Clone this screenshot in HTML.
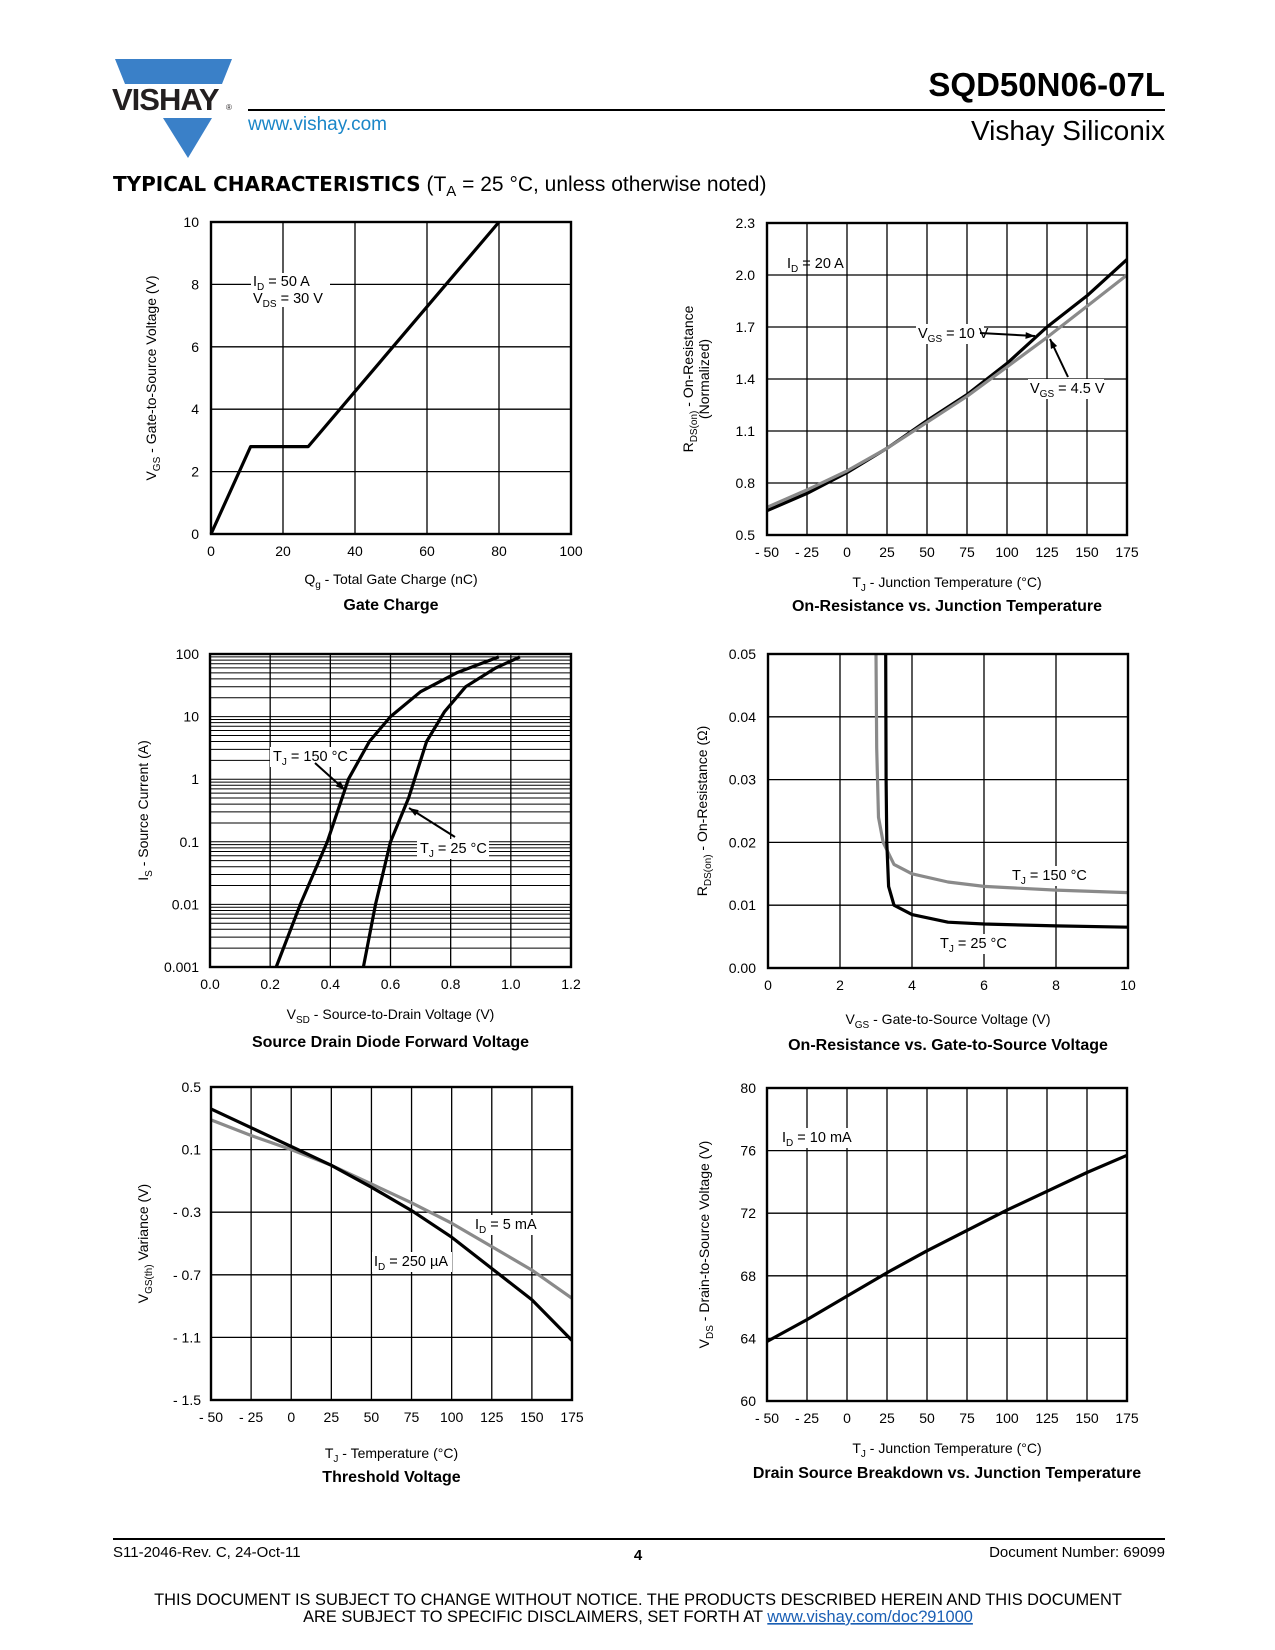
<!DOCTYPE html>
<html><head><meta charset="utf-8">
<style>
html,body{margin:0;padding:0;background:#fff;}
svg{display:block;font-family:"Liberation Sans",Arial,sans-serif;}
</style></head>
<body>
<svg id="page" width="1275" height="1650" viewBox="0 0 1275 1650" xmlns="http://www.w3.org/2000/svg">
  <g>
    <polygon points="115,59 232,59 222,84 125,84" fill="#3a80c8"/>
    <polygon points="163,118 212,118 188,158" fill="#3a80c8"/>
    <text x="112" y="110" font-size="31" font-weight="bold" fill="#231f20" letter-spacing="-1">VISHAY</text>
    <text x="226" y="110" font-size="8" fill="#231f20">®</text>
  </g>
  <line x1="248" y1="110" x2="1165" y2="110" stroke="#000" stroke-width="2"/>
  <text x="1165" y="96" text-anchor="end" font-size="33" font-weight="bold">SQD50N06-07L</text>
  <text x="1165" y="140" text-anchor="end" font-size="28">Vishay Siliconix</text>
  <text x="248" y="130" font-size="19" fill="#1a86c8">www.vishay.com</text>
  <text x="113" y="191" font-size="21"><tspan font-weight="bold" font-family="'DejaVu Sans','Liberation Sans',sans-serif" font-size="20">TYPICAL CHARACTERISTICS</tspan> (T<tspan font-size="15" dy="5">A</tspan><tspan dy="-5"> = 25 °C, unless otherwise noted)</tspan></text>

  <g id="charts"></g>

  <line x1="113" y1="1539" x2="1165" y2="1539" stroke="#000" stroke-width="2"/>
  <text x="113" y="1557" font-size="15">S11-2046-Rev. C, 24-Oct-11</text>
  <text x="638" y="1560" font-size="15" font-weight="bold" text-anchor="middle">4</text>
  <text x="1165" y="1557" font-size="15" text-anchor="end">Document Number: 69099</text>
  <text x="638" y="1605" font-size="16.4" text-anchor="middle">THIS DOCUMENT IS SUBJECT TO CHANGE WITHOUT NOTICE. THE PRODUCTS DESCRIBED HEREIN AND THIS DOCUMENT</text>
  <text x="638" y="1622" font-size="16.4" text-anchor="middle">ARE SUBJECT TO SPECIFIC DISCLAIMERS, SET FORTH AT <tspan fill="#1a5fb4" text-decoration="underline">www.vishay.com/doc?91000</tspan></text>
</svg>
<script>
// ---- Chart 1: Gate charge
const gcQ = [0, 11, 27, 80];
const gcV = [0, 2.8, 2.8, 10];
const gcXTicks = [0, 20, 40, 60, 80, 100];
const gcYTicks = [0, 2, 4, 6, 8, 10];
// ---- Chart 2: On-resistance vs Tj
const rtT = [-50, -25, 0, 25, 50, 75, 100, 125, 150, 175];
const rt10V = [0.64, 0.74, 0.86, 1.0, 1.16, 1.31, 1.49, 1.70, 1.88, 2.09];
const rt45V = [0.66, 0.76, 0.87, 1.0, 1.15, 1.30, 1.47, 1.64, 1.82, 2.0];
const rtXTicks = [-50, -25, 0, 25, 50, 75, 100, 125, 150, 175];
const rtYTicks = [0.5, 0.8, 1.1, 1.4, 1.7, 2.0, 2.3];
// ---- Chart 3: Diode forward
const sd150V = [0.22, 0.30, 0.39, 0.46, 0.53, 0.60, 0.70, 0.82, 0.96];
const sd150I = [0.001, 0.01, 0.1, 1, 4, 10, 25, 50, 90];
const sd25V = [0.51, 0.55, 0.60, 0.66, 0.68, 0.72, 0.78, 0.85, 0.95, 1.03];
const sd25I = [0.001, 0.01, 0.1, 0.5, 1, 4, 12, 30, 60, 90];
const sdXTicks = [0.0, 0.2, 0.4, 0.6, 0.8, 1.0, 1.2];
const sdYTicks = [0.001, 0.01, 0.1, 1, 10, 100];
// ---- Chart 4: Rds vs Vgs
const rv25V = [3.27, 3.28, 3.30, 3.35, 3.5, 4, 5, 6, 8, 10];
const rv25R = [0.05, 0.03, 0.02, 0.013, 0.010, 0.0085, 0.0073, 0.007, 0.0067, 0.0065];
const rv150V = [3.0, 3.02, 3.07, 3.2, 3.5, 4, 5, 6, 8, 10];
const rv150R = [0.05, 0.035, 0.024, 0.020, 0.0165, 0.015, 0.0137, 0.013, 0.0124, 0.012];
const rvXTicks = [0, 2, 4, 6, 8, 10];
const rvYTicks = [0.00, 0.01, 0.02, 0.03, 0.04, 0.05];
// ---- Chart 5: Threshold voltage
const thT = [-50, -25, 0, 25, 50, 75, 100, 125, 150, 175];
const th250u = [0.36, 0.24, 0.12, 0.0, -0.14, -0.29, -0.46, -0.66, -0.86, -1.12];
const th5m = [0.29, 0.19, 0.10, 0.0, -0.12, -0.24, -0.37, -0.52, -0.67, -0.85];
const thYTicks = [-1.5, -1.1, -0.7, -0.3, 0.1, 0.5];
const thYLabels = ["- 1.5", "- 1.1", "- 0.7", "- 0.3", "0.1", "0.5"];
// ---- Chart 6: Breakdown
const bdT = [-50, -25, 0, 25, 50, 75, 100, 125, 150, 175];
const bdV = [63.8, 65.2, 66.7, 68.2, 69.6, 70.9, 72.2, 73.4, 74.6, 75.7];
const bdYTicks = [60, 64, 68, 72, 76, 80];
const tempLabels = ["- 50", "- 25", "0", "25", "50", "75", "100", "125", "150", "175"];

const NS = "http://www.w3.org/2000/svg";
const root = document.getElementById('charts');
function mk(tag, attrs, parent, txt) {
  const e = document.createElementNS(NS, tag);
  for (const k in attrs) e.setAttribute(k, attrs[k]);
  if (txt !== undefined) e.textContent = txt;
  parent.appendChild(e);
  return e;
}
function fmt(v, d) { return v.toFixed(d); }

function chart(o) {
  const g = mk('g', {}, root);
  
  
  const L = o.box[0], T = o.box[1], R = o.box[2], B = o.box[3];
  const xs = v => L + (v - o.xmin) / (o.xmax - o.xmin) * (R - L);
  const ys = o.log
    ? v => B - (Math.log10(v) - Math.log10(o.ymin)) / (Math.log10(o.ymax) - Math.log10(o.ymin)) * (B - T)
    : v => B - (v - o.ymin) / (o.ymax - o.ymin) * (B - T);
  const grid = mk('g', {}, g);
  
  
  o.xticks.forEach(v => mk('line', {x1: xs(v), x2: xs(v), y1: T, y2: B, stroke: '#000', 'stroke-width': 1.3}, grid));
  if (o.log) {
    for (let d = o.ymin; d < o.ymax; d *= 10) {
      for (let k = 1; k < 10; k++) {
        const v = d * k;
        mk('line', {x1: L, x2: R, y1: ys(v), y2: ys(v), stroke: '#000', 'stroke-width': 1}, grid);
      }
    }
  } else {
    o.yticks.forEach(v => mk('line', {x1: L, x2: R, y1: ys(v), y2: ys(v), stroke: '#000', 'stroke-width': 1.3}, grid));
  }
  (o.notes || []).forEach(n => {
    const t = mk('g', {}, g);
    
    
    if (n.bg) mk('rect', {x: n.bg[0], y: n.bg[1], width: n.bg[2], height: n.bg[3], fill: '#fff'}, t);
    n.lines.forEach((ln, i) => {
      const tx = mk('text', {x: n.x, y: n.y + i * 17, 'font-size': 14.5}, t);
      mk('tspan', {}, tx, ln[0]);
      mk('tspan', {'font-size': 10, dy: 4}, tx, ln[1]);
      mk('tspan', {dy: -4}, tx, ln[2]);
    });
    if (n.arrow) {
      const [x1, y1, x2, y2] = n.arrow;
      mk('line', {x1, y1, x2, y2, stroke: '#000', 'stroke-width': 2}, t);
      const ang = Math.atan2(y2 - y1, x2 - x1), s = 10;
      const p = [[x2, y2], [x2 - s * Math.cos(ang - 0.35), y2 - s * Math.sin(ang - 0.35)], [x2 - s * Math.cos(ang + 0.35), y2 - s * Math.sin(ang + 0.35)]];
      mk('polygon', {points: p.map(q => q.join(',')).join(' '), fill: '#000'}, t);
    }
  });
  o.series.forEach(s => {
    const d = s.x.map((v, i) => (i ? 'L' : 'M') + xs(v).toFixed(1) + ',' + ys(s.y[i]).toFixed(1)).join(' ');
    const p = mk('path', {d, fill: 'none', stroke: s.color, 'stroke-width': 3.2, 'stroke-linejoin': 'round'}, g);
    
    
  });
  mk('rect', {x: L, y: T, width: R - L, height: B - T, fill: 'none', stroke: '#000', 'stroke-width': 2.4}, g);
  const xl = mk('g', {}, g);
  
  
  o.xticks.forEach((v, i) => mk('text', {x: xs(v), y: B + 22, 'text-anchor': 'middle', 'font-size': 14}, xl, o.xlabels ? o.xlabels[i] : String(v)));
  const yl = mk('g', {}, g);
  
  
  o.yticks.forEach((v, i) => mk('text', {x: L - o.ylabOff, y: ys(v) + 5, 'text-anchor': 'end', 'font-size': 14}, yl, o.ylabels[i]));
  const xt = mk('text', {x: (L + R) / 2, y: B + o.xtOff, 'text-anchor': 'middle', 'font-size': 14}, g);
  
  
  mk('tspan', {}, xt, o.xt[0]); mk('tspan', {'font-size': 10, dy: 4}, xt, o.xt[1]); mk('tspan', {dy: -4}, xt, o.xt[2]);
  const yt = mk('text', {transform: `translate(${o.ytX},${(T + B) / 2}) rotate(-90)`, 'text-anchor': 'middle', 'font-size': 14}, g);
  
  
  mk('tspan', {}, yt, o.yt[0]); mk('tspan', {'font-size': 10, dy: 4}, yt, o.yt[1]); mk('tspan', {dy: -4}, yt, o.yt[2]);
  if (o.yt2) {
    const y2 = mk('text', {transform: `translate(${o.ytX + 16},${(T + B) / 2}) rotate(-90)`, 'text-anchor': 'middle', 'font-size': 14}, g, o.yt2);
    
    
  }
  const ct = mk('text', {x: (L + R) / 2, y: B + o.ctOff, 'text-anchor': 'middle', 'font-size': 16, 'font-weight': 'bold'}, g, o.title);
  
  
}

chart({name: 'gate-charge-chart', box: [211, 222, 571, 534], xmin: 0, xmax: 100, ymin: 0, ymax: 10,
  xticks: gcXTicks, yticks: gcYTicks, ylabels: gcYTicks.map(String), ylabOff: 12,
  series: [{name: 'gate-charge-curve', x: gcQ, y: gcV, color: '#000'}],
  xt: ['Q', 'g', ' - Total Gate Charge (nC)'], xtOff: 50, yt: ['V', 'GS', ' - Gate-to-Source Voltage (V)'], ytX: 156,
  title: 'Gate Charge', ctOff: 76,
  notes: [{name: 'condition-label', x: 253, y: 286, bg: [251, 273, 79, 34], lines: [['I', 'D', ' = 50 A'], ['V', 'DS', ' = 30 V']]}]});

chart({name: 'on-resistance-vs-temp-chart', box: [767, 223, 1127, 535], xmin: -50, xmax: 175, ymin: 0.5, ymax: 2.3,
  xticks: rtXTicks, xlabels: tempLabels, yticks: rtYTicks, ylabels: rtYTicks.map(v => fmt(v, 1)), ylabOff: 12,
  series: [{name: 'vgs-10v-curve', x: rtT, y: rt10V, color: '#000'}, {name: 'vgs-4p5v-curve', x: rtT, y: rt45V, color: '#8a8a8a'}],
  xt: ['T', 'J', ' - Junction Temperature (°C)'], xtOff: 52, yt: ['R', 'DS(on)', ' - On-Resistance'], yt2: '(Normalized)', ytX: 693,
  title: 'On-Resistance vs. Junction Temperature', ctOff: 76,
  notes: [{name: 'id-label', x: 787, y: 268, lines: [['I', 'D', ' = 20 A']]},
          {name: 'vgs-10v-label', x: 918, y: 338, bg: [916, 324, 68, 20], lines: [['V', 'GS', ' = 10 V']], arrow: [980, 333, 1035, 336]},
          {name: 'vgs-4p5v-label', x: 1030, y: 393, bg: [1028, 379, 76, 20], lines: [['V', 'GS', ' = 4.5 V']], arrow: [1068, 377, 1050, 339]}]});

chart({name: 'diode-forward-voltage-chart', box: [210, 654, 571, 967], xmin: 0, xmax: 1.2, ymin: 0.001, ymax: 100, log: true,
  xticks: sdXTicks, xlabels: sdXTicks.map(v => fmt(v, 1)), yticks: sdYTicks, ylabels: ['0.001', '0.01', '0.1', '1', '10', '100'], ylabOff: 11,
  series: [{name: 'tj-150c-curve', x: sd150V, y: sd150I, color: '#000'}, {name: 'tj-25c-curve', x: sd25V, y: sd25I, color: '#000'}],
  xt: ['V', 'SD', ' - Source-to-Drain Voltage (V)'], xtOff: 52, yt: ['I', 'S', ' - Source Current (A)'], ytX: 148,
  title: 'Source Drain Diode Forward Voltage', ctOff: 80,
  notes: [{name: 'tj-150c-label', x: 273, y: 761, bg: [270, 747, 80, 20], lines: [['T', 'J', ' = 150 °C']], arrow: [315, 763, 345, 790]},
          {name: 'tj-25c-label', x: 420, y: 853, bg: [417, 839, 72, 20], lines: [['T', 'J', ' = 25 °C']], arrow: [455, 837, 409, 808]}]});

chart({name: 'on-resistance-vs-vgs-chart', box: [768, 654, 1128, 968], xmin: 0, xmax: 10, ymin: 0, ymax: 0.05,
  xticks: rvXTicks, yticks: rvYTicks, ylabels: rvYTicks.map(v => fmt(v, 2)), ylabOff: 12,
  series: [{name: 'tj-150c-curve', x: rv150V, y: rv150R, color: '#8a8a8a'}, {name: 'tj-25c-curve', x: rv25V, y: rv25R, color: '#000'}],
  xt: ['V', 'GS', ' - Gate-to-Source Voltage (V)'], xtOff: 56, yt: ['R', 'DS(on)', ' - On-Resistance (Ω)'], ytX: 707,
  title: 'On-Resistance vs. Gate-to-Source Voltage', ctOff: 82,
  notes: [{name: 'tj-150c-label', x: 1012, y: 880, bg: [1010, 866, 78, 20], lines: [['T', 'J', ' = 150 °C']]},
          {name: 'tj-25c-label', x: 940, y: 948, bg: [938, 934, 72, 20], lines: [['T', 'J', ' = 25 °C']]}]});

chart({name: 'threshold-voltage-chart', box: [211, 1087, 572, 1400], xmin: -50, xmax: 175, ymin: -1.5, ymax: 0.5,
  xticks: rtXTicks, xlabels: tempLabels, yticks: thYTicks, ylabels: thYLabels, ylabOff: 10,
  series: [{name: 'id-5ma-curve', x: thT, y: th5m, color: '#8a8a8a'}, {name: 'id-250ua-curve', x: thT, y: th250u, color: '#000'}],
  xt: ['T', 'J', ' - Temperature (°C)'], xtOff: 58, yt: ['V', 'GS(th)', ' Variance (V)'], ytX: 148,
  title: 'Threshold Voltage', ctOff: 82,
  notes: [{name: 'id-5ma-label', x: 475, y: 1229, bg: [473, 1215, 68, 20], lines: [['I', 'D', ' = 5 mA']]},
          {name: 'id-250ua-label', x: 374, y: 1266, bg: [372, 1252, 80, 20], lines: [['I', 'D', ' = 250 µA']]}]});

chart({name: 'breakdown-voltage-chart', box: [767, 1088, 1127, 1401], xmin: -50, xmax: 175, ymin: 60, ymax: 80,
  xticks: rtXTicks, xlabels: tempLabels, yticks: bdYTicks, ylabels: bdYTicks.map(String), ylabOff: 11,
  series: [{name: 'breakdown-curve', x: bdT, y: bdV, color: '#000'}],
  xt: ['T', 'J', ' - Junction Temperature (°C)'], xtOff: 52, yt: ['V', 'DS', ' - Drain-to-Source Voltage (V)'], ytX: 709,
  title: 'Drain Source Breakdown vs. Junction Temperature', ctOff: 77,
  notes: [{name: 'id-label', x: 782, y: 1142, bg: [780, 1128, 70, 20], lines: [['I', 'D', ' = 10 mA']]}]});
</script>
</body></html>
